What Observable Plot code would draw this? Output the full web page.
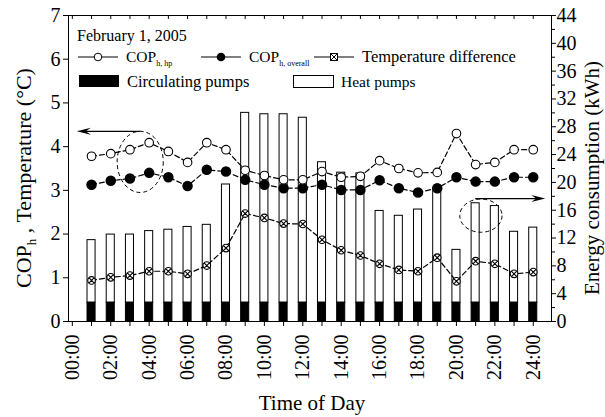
<!DOCTYPE html>
<html><head><meta charset="utf-8">
<script src="https://cdn.jsdelivr.net/npm/d3@7"></script>
<script src="https://cdn.jsdelivr.net/npm/@observablehq/plot@0.6"></script>
<style>
html,body{margin:0;padding:0;background:#fff;}
svg{display:block;}
</style>
</head><body><div id="chart"></div>
<script>
// ---- data ----
const hours = [1,2,3,4,5,6,7,8,9,10,11,12,13,14,15,16,17,18,19,20,21,22,23,24];
const circPumpsKwh = [2.7,2.7,2.7,2.7,2.7,2.7,2.7,2.7,2.7,2.7,2.7,2.7,2.7,2.7,2.7,2.7,2.7,2.7,2.7,2.7,2.7,2.7,2.7,2.7];
const heatPumpsKwh = [9.0,9.8,9.8,10.3,10.5,10.9,11.2,17.0,27.3,27.1,27.1,26.6,20.2,18.7,18.6,13.2,12.5,13.4,16.3,7.6,14.3,13.9,10.2,10.8];
const copHp      = [3.78,3.84,3.93,4.09,3.89,3.64,4.09,3.93,3.46,3.34,3.24,3.24,3.43,3.30,3.32,3.68,3.50,3.40,3.41,4.30,3.59,3.64,3.93,3.93];
const copOverall = [3.13,3.22,3.27,3.40,3.30,3.10,3.47,3.43,3.24,3.13,3.05,3.05,3.13,3.01,3.01,3.23,3.05,2.95,3.05,3.30,3.20,3.20,3.30,3.30];
const tempDiff   = [0.94,1.01,1.05,1.15,1.15,1.09,1.28,1.68,2.47,2.37,2.24,2.23,1.87,1.63,1.51,1.32,1.18,1.15,1.46,0.92,1.38,1.32,1.09,1.13];
const leftTicks = [0,1,2,3,4,5,6,7];
const rightTicks = [0,4,8,12,16,20,24,28,32,36,40,44];
const rightMinorTicks = [2,6,10,14,18,22,26,30,34,38,42];
const allHours = [0,1,2,3,4,5,6,7,8,9,10,11,12,13,14,15,16,17,18,19,20,21,22,23,24];
// annotation arrows / ellipses, in data units (hour, left-axis value)
const arrowsData = [{x1:3.56, y1:4.34, x2:0.26, y2:4.34}, {x1:21.0, y1:2.80, x2:24.65, y2:2.80}];
const ellipsesData = [{x:3.56, y:3.64, rx:1.2, ry:0.70}, {x:21.3, y:2.41, rx:1.1, ry:0.38}];

const K = 7/44; // kWh -> left axis units (0..44 kWh over 0..7)
const rows = hours.map((h,i)=>({h, circ: circPumpsKwh[i], heat: heatPumpsKwh[i], hp: copHp[i], ov: copOverall[i], td: tempDiff[i]}));
const font = "'Liberation Serif','Times New Roman',serif";
const BW = 0.21;

const crossCircle = {draw(ctx, size){
  const r = Math.sqrt(size/Math.PI);
  ctx.moveTo(r,0); ctx.arc(0,0,r,0,2*Math.PI);
  const k = r*Math.SQRT1_2;
  ctx.moveTo(-k,-k); ctx.lineTo(k,k);
  ctx.moveTo(-k,k); ctx.lineTo(k,-k);
}};

const plot = Plot.plot({
  width: 605, height: 417,
  marginLeft: 68, marginRight: 54, marginTop: 15, marginBottom: 96,
  x: {domain: [-0.2, 24.95]},
  y: {domain: [0, 7]},
  style: {fontFamily: font, background: "white", color: "black", overflow: "hidden"},
  marks: [
    Plot.rect(rows, {x1: d=>d.h-BW, x2: d=>d.h+BW, y1: d=>d.circ*K, y2: d=>(d.circ+d.heat)*K, fill:"white", stroke:"black", strokeWidth:1}),
    Plot.rect(rows, {x1: d=>d.h-BW, x2: d=>d.h+BW, y1: 0, y2: d=>d.circ*K, fill:"black", stroke:"black", strokeWidth:1}),
    Plot.line(rows, {x:"h", y:"td", stroke:"black", strokeWidth:1.2, strokeDasharray:"5,3"}),
    Plot.line(rows, {x:"h", y:"ov", stroke:"black", strokeWidth:1.2, strokeDasharray:"5,3"}),
    Plot.line(rows, {x:"h", y:"hp", stroke:"black", strokeWidth:1.2, strokeDasharray:"5,3"}),
    Plot.dot(rows, {x:"h", y:"td", symbol: crossCircle, r:3.8, fill:"white", stroke:"black", strokeWidth:1.1}),
    Plot.dot(rows, {x:"h", y:"ov", r:4.5, fill:"black", stroke:"black"}),
    Plot.dot(rows, {x:"h", y:"hp", r:4.3, fill:"white", stroke:"black", strokeWidth:1.1}),
    Plot.ruleX(allHours, {x: d=>d, y1: 7, y2: 6.91, stroke:"black", strokeWidth:1}),
    Plot.frame({stroke:"black", strokeWidth:1}),
    Plot.axisX({anchor:"bottom", ticks: allHours, tickFormat: d => d%2===0 ? String(d).padStart(2,"0")+":00" : "", tickRotate:-90, tickSize:5, tickPadding:8, fontSize:20, label:null}),
    Plot.axisY({anchor:"left", ticks: leftTicks, tickFormat: d=>String(d), tickSize:5, tickPadding:3, fontSize:20, label:null}),
    Plot.axisY({anchor:"right", ticks: rightTicks.map(k=>k*K), tickFormat: d=>String(Math.round(d/K)), tickSize:4, tickPadding:1, fontSize:20, label:null}),
    Plot.axisY({anchor:"right", ticks: rightMinorTicks.map(k=>k*K), tickFormat: ()=>"", tickSize:3, label:null})
  ]
});
document.getElementById("chart").appendChild(plot);

const svg = d3.select(plot);
const xs = plot.scale("x"), ys = plot.scale("y");
const X = v => xs.apply(v), Y = v => ys.apply(v);

// annotations
const ann = svg.append("g").attr("fill","none").attr("stroke","black");
ellipsesData.forEach(e => {
  ann.append("ellipse").attr("cx", X(e.x)).attr("cy", Y(e.y))
    .attr("rx", X(e.x+e.rx)-X(e.x)).attr("ry", Y(e.y-e.ry)-Y(e.y))
    .attr("stroke-dasharray","4,3").attr("stroke-width",1);
});
arrowsData.forEach(a => {
  const x1=X(a.x1), y1=Y(a.y1), x2=X(a.x2), y2=Y(a.y2);
  const dir = Math.sign(x2-x1);
  ann.append("line").attr("x1",x1).attr("y1",y1).attr("x2",x2-dir*8).attr("y2",y2).attr("stroke-width",1.2);
  ann.append("path").attr("d",`M${x2},${y2}L${x2-dir*14},${y2-3.5}L${x2-dir*9},${y2}L${x2-dir*14},${y2+3.5}Z`).attr("fill","black").attr("stroke","none");
});

// axis titles
const t = svg.append("g").attr("font-family", font).attr("fill","black");
const lt = t.append("text").attr("transform","translate(31,178) rotate(-90)").attr("text-anchor","middle").attr("font-size",22);
lt.append("tspan").text("COP");
lt.append("tspan").attr("font-size",13).attr("dy",5).text("h");
lt.append("tspan").attr("dy",-5).text(" , Temperature (°C)");
t.append("text").attr("transform","translate(599,178) rotate(-90)").attr("text-anchor","middle").attr("font-size",21).text("Energy consumption (kWh)");
t.append("text").attr("x",312).attr("y",410).attr("text-anchor","middle").attr("font-size",21).text("Time of Day");

// legend
const lg = svg.append("g").attr("font-family", font).attr("font-size",15.5).attr("fill","black").attr("text-anchor","start");
lg.append("text").attr("x",77).attr("y",41).attr("font-size",16).text("February 1, 2005");
function lineSym(x, kind){
  lg.append("line").attr("x1",x).attr("x2",x+40).attr("y1",57).attr("y2",57).attr("stroke","black").attr("stroke-width",1);
  if (kind==="open") lg.append("circle").attr("cx",x+20).attr("cy",57).attr("r",3.8).attr("fill","white").attr("stroke","black");
  if (kind==="filled") lg.append("circle").attr("cx",x+20).attr("cy",57).attr("r",4.3).attr("fill","black");
  if (kind==="cross") {
    lg.append("rect").attr("x",x+16.5).attr("y",53.5).attr("width",7).attr("height",7).attr("fill","white").attr("stroke","black");
    lg.append("path").attr("d",`M${x+16.5},53.5L${x+23.5},60.5M${x+16.5},60.5L${x+23.5},53.5`).attr("stroke","black");
  }
}
function copLabel(x, sub){
  const tx = lg.append("text").attr("x",x).attr("y",62);
  tx.append("tspan").text("COP");
  tx.append("tspan").attr("font-size",8).attr("dy",4).text(sub);
}
lineSym(78,"open"); copLabel(126,"h, hp");
lineSym(201,"filled"); copLabel(249,"h, overall");
lineSym(314,"cross");
lg.append("text").attr("x",362).attr("y",62).attr("font-size",16.5).text("Temperature difference");
lg.append("rect").attr("x",79).attr("y",75).attr("width",40).attr("height",12).attr("fill","black");
lg.append("text").attr("x",127).attr("y",87).attr("font-size",16.5).text("Circulating pumps");
lg.append("rect").attr("x",293.5).attr("y",75.5).attr("width",40).attr("height",12).attr("fill","white").attr("stroke","black");
lg.append("text").attr("x",341).attr("y",87).text("Heat pumps");
</script>
</body></html>
